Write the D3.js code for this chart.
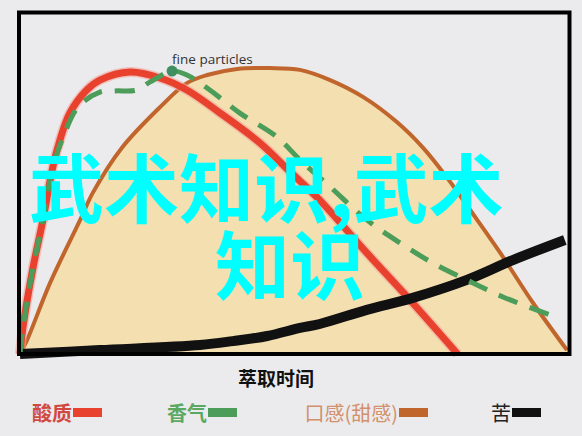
<!DOCTYPE html>
<html lang="zh">
<head>
  <meta charset="UTF-8" />
  <title>萃取时间</title>
  <style>
    html, body {
      margin: 0; padding: 0;
      background: #ebebed;
      overflow: hidden;
    }
    svg { display: block; }
    .cjk { font-family: "Noto Sans CJK SC", "Noto Sans", sans-serif; }
  </style>
  <script src="https://d3js.org/d3.v7.min.js"></script>
</head>
<body>
<svg id="chart" width="582" height="436"></svg>
<script>
  // extraction time (0-100) vs. intensity (0-100)
  const acidX = [0, 0.55, 2.4, 4.2, 6.0, 7.3, 9.1, 12.2, 14.6, 20.1, 25.6, 30.5, 36.6, 43.9, 49.4, 54.8, 63.4, 71.3, 80];
  const acidY = [0, 9, 29, 44.7, 62.3, 71.3, 80.3, 88, 91.3, 94, 92, 88, 80.3, 70.3, 60.7, 51.3, 33.7, 18, 0];

  const aromaX = [0, 0.55, 2.4, 4.2, 6.0, 7.9, 10.6, 14.6, 17.4, 21.4, 23.8, 27.8, 30.5, 34.7, 40.2, 47.0, 51.2, 56.7, 63.4, 69.5, 75.5, 82.8, 88.3, 97.4];
  const aromaY = [0, 9, 29, 44.7, 62.3, 72.3, 82.3, 87.3, 87.7, 88, 90.7, 94.3, 93, 88, 80.3, 72.3, 64.7, 55.7, 44.7, 37, 30.3, 23.7, 19, 12.7];

  const bodyX = [0, 1.3, 5.5, 11, 13.3, 18.6, 25.6, 30.5, 34.2, 39.7, 45.7, 51.2, 56.7, 62.7, 68.9, 73.7, 78.1, 82.3, 87.8, 93.8, 100];
  const bodyY = [0, 4.7, 23.7, 44.7, 53.7, 68.7, 82.3, 90.3, 93, 95, 95.3, 94.7, 91.3, 85.7, 77.3, 68.7, 58.7, 48, 33.7, 17, 1.3];

  const bitterX = [0, 14.6, 32.9, 38.9, 45.2, 51.2, 54.8, 63.4, 71.8, 81.7, 90.1, 99.6];
  const bitterY = [0, 1.3, 3, 4.3, 6, 8.7, 10, 14.7, 18.7, 24.7, 31.3, 38];

  const legendLabels = ["酸质", "香气", "口感(甜感)", "苦"];
  const legendColors = ["#e8422f", "#4c9d5a", "#c0652c", "#111111"];
  const legendTextColors = ["#d04a42", "#5aa862", "#d3906c", "#222222"];
  const legendWeights = ["bold", "bold", "normal", "normal"];
  const legendSwatchX = [73, 208, 399, 512];

  const xTitle = "萃取时间";
  const peakNote = "fine particles";
  const overlayLines = ["武术知识,武术", "知识"];

  const svg = d3.select("#chart");
  const x = d3.scaleLinear().domain([0, 100]).range([20, 567]);
  const y = d3.scaleLinear().domain([0, 100]).range([354, 54]);

  const zip = (xs, ys) => xs.map((v, i) => ({ x: v, y: ys[i] }));
  const curve = d3.curveCatmullRom.alpha(0.5);
  const line = d3.line().x(d => x(d.x)).y(d => y(d.y)).curve(curve);
  const area = d3.area().x(d => x(d.x)).y0(y(0)).y1(d => y(d.y)).curve(curve);

  const acid = zip(acidX, acidY);
  const aroma = zip(aromaX, aromaY);
  const body = zip(bodyX, bodyY);
  const bitter = zip(bitterX, bitterY);

  const g = svg.append("g");

  // 口感 area
  g.append("path").datum(body)
    .attr("d", area)
    .attr("fill", "#f3dfb0");
  g.append("path").datum(body)
    .attr("d", line)
    .attr("fill", "none")
    .attr("stroke", "#c0652c")
    .attr("stroke-width", 4);

  // 酸质 (soft halo + line)
  g.append("path").datum(acid)
    .attr("d", line)
    .attr("fill", "none")
    .attr("stroke", "#f5a49c")
    .attr("stroke-opacity", 0.6)
    .attr("stroke-width", 10);
  g.append("path").datum(acid)
    .attr("d", line)
    .attr("fill", "none")
    .attr("stroke", "#e8422f")
    .attr("stroke-width", 7);

  // 苦
  g.append("path").datum(bitter)
    .attr("d", line)
    .attr("fill", "none")
    .attr("stroke", "#111")
    .attr("stroke-width", 10);

  // 香气 dashed
  g.append("path").datum(aroma)
    .attr("d", line)
    .attr("fill", "none")
    .attr("stroke", "#4c9d5a")
    .attr("stroke-width", 5)
    .attr("stroke-dasharray", "20,13");

  const peak = aroma.reduce((a, b) => (b.y > a.y ? b : a));
  g.append("circle")
    .attr("cx", x(peak.x)).attr("cy", y(peak.y))
    .attr("r", 5.5)
    .attr("fill", "#3f8f63");
  g.append("text")
    .attr("x", x(peak.x)).attr("y", y(peak.y) - 7)
    .attr("font-family", "'Open Sans', sans-serif")
    .attr("font-size", 13.5)
    .attr("fill", "#333")
    .text(peakNote);

  // frame
  svg.append("rect")
    .attr("x", 19).attr("y", 12.5)
    .attr("width", 550.5).attr("height", 341.5)
    .attr("fill", "none")
    .attr("stroke", "#000")
    .attr("stroke-width", 4);

  // axis title
  svg.append("text")
    .attr("class", "cjk")
    .attr("x", 276).attr("y", 386)
    .attr("text-anchor", "middle")
    .attr("font-size", 19)
    .attr("font-weight", "bold")
    .attr("fill", "#111")
    .text(xTitle);

  // legend
  const leg = svg.append("g").selectAll("g")
    .data(legendLabels)
    .join("g");
  leg.append("rect")
    .attr("x", (d, i) => legendSwatchX[i])
    .attr("y", 408)
    .attr("width", 29).attr("height", 9)
    .attr("fill", (d, i) => legendColors[i]);
  leg.append("text")
    .attr("class", "cjk")
    .attr("x", (d, i) => legendSwatchX[i] - 1)
    .attr("y", 421)
    .attr("text-anchor", "end")
    .attr("font-size", 20)
    .attr("font-weight", (d, i) => legendWeights[i])
    .attr("fill", (d, i) => legendTextColors[i])
    .text(d => d);

  // overlay caption
  svg.append("text")
    .attr("class", "cjk")
    .attr("font-size", 75)
    .attr("font-weight", "bold")
    .attr("fill", "#00ffff")
    .selectAll("tspan")
    .data(overlayLines)
    .join("tspan")
    .attr("x", (d, i) => i === 0 ? 29 : 215)
    .attr("y", (d, i) => i === 0 ? 217 : 294)
    .text(d => d);
</script>
</body>
</html>
